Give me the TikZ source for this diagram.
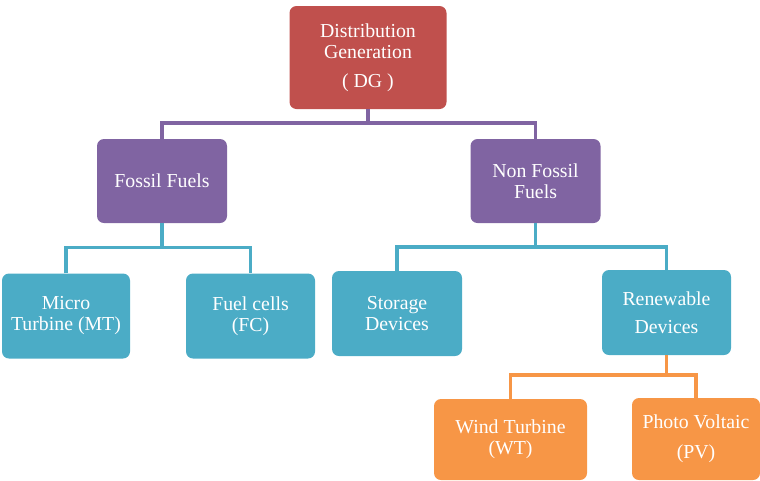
\documentclass[tikz,border=0pt]{standalone}
\usepackage{fontspec}
\setmainfont{Liberation Serif}
\definecolor{dgred}{HTML}{C0504D}
\definecolor{fpurple}{HTML}{8064A2}
\definecolor{lteal}{HTML}{4BACC6}
\definecolor{lorange}{HTML}{F79646}
\begin{document}
\begin{tikzpicture}[x=1pt,y=-1pt,
  box/.style={rounded corners=7pt, text=white, align=center, inner sep=0pt,
     font=\fontsize{19.8}{21}\selectfont},
  link/.style={line width=3.6pt, line join=miter}]
\useasboundingbox (0,0) rectangle (760,480);
\node[box, fill=dgred, minimum width=157pt, minimum height=103pt] (dg) at (368,57.5)
  {Distribution\\Generation\\[8pt]( DG )};
\node[box, fill=fpurple, minimum width=130pt, minimum height=84pt] (ff) at (162,181) {Fossil Fuels};
\node[box, fill=fpurple, minimum width=130pt, minimum height=84pt] (nff) at (535.5,181) {Non Fossil\\Fuels};
\node[box, fill=lteal, minimum width=128pt, minimum height=85pt] (mt) at (66,316) {Micro\\Turbine (MT)};
\node[box, fill=lteal, minimum width=129pt, minimum height=85pt] (fc) at (250.5,316) {Fuel cells\\(FC)};
\node[box, fill=lteal, minimum width=130pt, minimum height=85pt] (sd) at (397,313.5) {Storage\\Devices};
\node[box, fill=lteal, minimum width=129pt, minimum height=85pt] (rd) at (666.5,312.5) {Renewable\\[7pt]Devices};
\node[box, fill=lorange, minimum width=153pt, minimum height=81pt] (wt) at (510.5,439.5) {Wind Turbine\\(WT)};
\node[box, fill=lorange, minimum width=128pt, minimum height=82pt] (pv) at (696,439) {Photo Voltaic\\[9pt](PV)};
% connectors
\draw[link, fpurple] (dg.south) -- ++(0,15);
\draw[link, fpurple] (ff.north) -- ++(0,-16) -| (nff.north);
\draw[link, lteal] (ff.south) -- ++(0,25);
\draw[link, lteal] (mt.north) -- ++(0,-26) -| (fc.north);
\draw[link, lteal] (nff.south) -- ++(0,24);
\draw[link, lteal] (sd.north) -- ++(0,-24) -| (rd.north);
\draw[link, lorange] (rd.south) -- ++(0,20);
\draw[link, lorange] (wt.north) -- ++(0,-24) -| (pv.north);
\end{tikzpicture}
\end{document}
